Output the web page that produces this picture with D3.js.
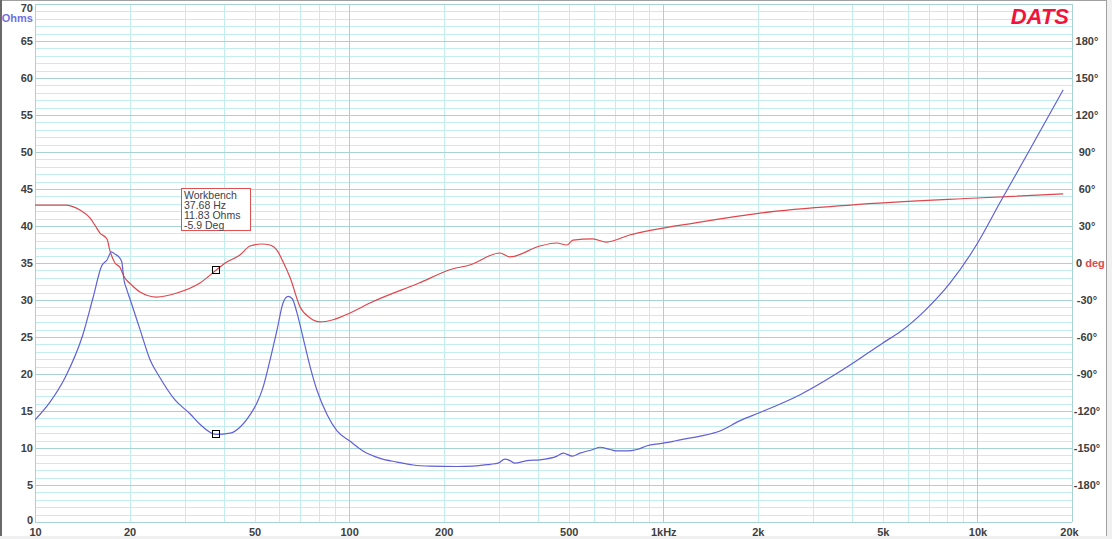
<!DOCTYPE html>
<html><head><meta charset="utf-8">
<script src="https://cdn.jsdelivr.net/npm/d3@7/dist/d3.min.js"></script>
<style>
html,body{margin:0;padding:0;background:#fff;overflow:hidden}
svg{display:block}
text{font-family:Arial,"Liberation Sans",sans-serif}
</style></head>
<body>
<script>
// ---- data ----
const impFreq = [10,11.16,12.46,14.2,15.3,16.3,16.95,17.5,17.97,18.6,18.9,19.2,19.6,20,21.6,23.2,25.0,27.9,31.2,33.5,37.68,41.8,44.9,48.4,50.9,53.2,56.0,58.9,61.6,63.9,65.8,68.3,70.8,75.1,79.0,85.1,91.5,100.7,110.7,125.5,142,160,181,220,248,281,298,313,325,337,368,405,459,480,513,543,598,629,677,713,767,825,888,977,1075,1131,1309,1516,1756,2033,2727,3932,5000,5675,6818,8188,9980,11813,14718,18750];
const impOhms = [13.8,16.2,19.5,25.3,30.3,34.6,35.4,36.5,36.2,35.7,35.1,32.7,31.4,30.3,26.0,22.0,19.5,16.5,14.6,13.2,11.83,12.0,12.8,14.5,16.1,18.2,21.9,25.9,29.6,30.5,30.2,28.2,25.5,21.0,17.8,14.5,12.3,10.9,9.6,8.6,8.1,7.7,7.55,7.5,7.55,7.8,7.95,8.5,8.3,7.95,8.3,8.4,8.9,9.3,8.9,9.3,9.8,10.1,9.8,9.6,9.6,9.8,10.3,10.6,10.9,11.1,11.6,12.3,13.7,14.8,17.2,21.2,24.2,25.7,28.6,32.3,37.6,43.2,50.4,58.4];
const phFreq = [10,12.46,13.9,14.96,15.5,16.1,16.95,17.3,17.97,18.6,19.3,20,21.6,24.4,28.3,33.5,37.68,40.3,44.9,48.4,52.9,56.0,58.9,61.6,64.9,69.8,75.1,80.7,88.9,100.7,116.5,167,213,242,302,325,405,458,493,516,596,659,781,1309,2033,3932,9980,18750];
const phDeg = [47,47,43,36.5,30.8,24.3,19.5,10.5,0,-3.2,-12,-16.2,-23.5,-27.6,-24.3,-16.2,-5.9,0,6.5,13.8,15.4,14.6,10.5,1,-12,-35.7,-44.6,-47.8,-46,-40.5,-32.4,-16.2,-4.9,-1.6,8.1,4.9,13.8,16.2,14.6,18.6,19.5,17,22.7,33.2,40.5,47,52.7,56];
const xTickValues = [10,20,50,100,200,500,1000,2000,5000,10000,20000];
const xTickLabels = ["10","20","50","100","200","500","1kHz","2k","5k","10k","20k"];
const ohmTicks = [0,5,10,15,20,25,30,35,40,45,50,55,60,65,70];
const degTicks = [-180,-150,-120,-90,-60,-30,0,30,60,90,120,150,180];
const legendLines = ["Workbench","37.68 Hz","11.83 Ohms","-5.9 Deg"];
const cursorFreq = 37.68, cursorOhms = 11.83, cursorDeg = -5.9;

// ---- layout ----
const W = 1112, H = 539;
const L = 35, R = 1072, T = 4, B = 522;
const svg = d3.select("body").append("svg").attr("width", W).attr("height", H);

const x = d3.scaleLog().domain([10, 20000]).range([L, R]);
const yO = d3.scaleLinear().domain([0, 70]).range([B, T]);
const yD = d3.scaleLinear().domain([-210, 210]).range([B, T]);

// window frame
svg.append("rect").attr("x",0).attr("y",0).attr("width",W).attr("height",H).attr("fill","#fff");
svg.append("rect").attr("x",1107).attr("y",0).attr("width",5).attr("height",H).attr("fill","#f0f0f0");
svg.append("rect").attr("x",0).attr("y",536).attr("width",W).attr("height",3).attr("fill","#f0f0f0");
svg.append("line").attr("x1",0).attr("x2",1107).attr("y1",0.5).attr("y2",0.5).attr("stroke","#a0a0a0");
svg.append("rect").attr("x",0).attr("y",0).attr("width",2).attr("height",536).attr("fill","#696969");
svg.append("line").attr("x1",1106.5).attr("x2",1106.5).attr("y1",0).attr("y2",536).attr("stroke","#a0a0a0");

// grid
const grid = svg.append("g").attr("shape-rendering","crispEdges");
const minorX = [];
for (let d = 10; d < 20000; d *= 10) for (let m = 2; m <= 9; m++) { const v = d*m; if (v < 20000) minorX.push(v); }
const minorY = d3.range(0, 71, 1).filter(v => v % 5 !== 0);
const minorCol = "#c4eeee", majorCol = "#a9d3d3";
grid.selectAll(".hy").data(minorY).join("line")
  .attr("x1",L).attr("x2",R).attr("y1",d=>Math.round(yO(d))+0.5).attr("y2",d=>Math.round(yO(d))+0.5)
  .attr("stroke",minorCol);
grid.selectAll(".vx").data(minorX).join("line")
  .attr("y1",T).attr("y2",B).attr("x1",d=>Math.round(x(d))+0.5).attr("x2",d=>Math.round(x(d))+0.5)
  .attr("stroke",minorCol);
grid.selectAll(".hY").data(ohmTicks).join("line")
  .attr("x1",L).attr("x2",R).attr("y1",d=>Math.round(yO(d))+0.5).attr("y2",d=>Math.round(yO(d))+0.5)
  .attr("stroke",majorCol);
grid.selectAll(".vX").data([10,100,1000,10000,20000]).join("line")
  .attr("y1",T).attr("y2",B).attr("x1",d=>Math.round(x(d))+0.5).attr("x2",d=>Math.round(x(d))+0.5)
  .attr("stroke",majorCol);

// axes labels
const lab = "#404040";
const axL = d3.axisLeft(yO).tickValues(ohmTicks).tickSize(0).tickPadding(2).tickFormat(d3.format("d"));
const gL = svg.append("g").attr("transform",`translate(${L},0)`).call(axL);
gL.select(".domain").remove();
gL.selectAll("text").attr("fill",lab).style("font-size","11px").style("font-weight","bold")
  .attr("dy", d => d === 70 ? "0.7em" : d === 0 ? "0.15em" : "0.36em");

const axB = d3.axisBottom(x).tickValues(xTickValues).tickSize(0).tickPadding(6)
  .tickFormat((d,i) => xTickLabels[i]);
const gB = svg.append("g").attr("transform",`translate(0,${B})`).call(axB);
gB.select(".domain").remove();
gB.selectAll("text").attr("fill",lab).style("font-size","11px").style("font-weight","bold")
  .attr("x", d => d === 20000 ? -3 : 0);

const axR = d3.axisRight(yD).tickValues(degTicks).tickSize(0).tickPadding(15)
  .tickFormat(d => d === 0 ? "" : d + "°");
const gR = svg.append("g").attr("transform",`translate(${R},0)`).call(axR);
gR.select(".domain").remove();
gR.selectAll("text").attr("fill",lab).style("font-size","11px").style("font-weight","bold")
  .attr("text-anchor","middle");
const zeroLab = svg.append("text").attr("x",1076).attr("y",yD(0)).attr("dy","0.36em")
  .style("font-size","11px").style("font-weight","bold");
zeroLab.append("tspan").attr("fill",lab).text("0 ");
zeroLab.append("tspan").attr("fill","#e04a4a").text("deg");

svg.append("text").attr("x",33).attr("y",22).attr("text-anchor","end")
  .attr("fill","#7070e4").style("font-size","11px").style("font-weight","bold").text("Ohms");

// curves
svg.append("clipPath").attr("id","pc").append("rect")
  .attr("x",L).attr("y",T).attr("width",R-L).attr("height",B-T);
const lineO = d3.line().x(d=>x(d[0])).y(d=>yO(d[1])).curve(d3.curveMonotoneX);
const lineD = d3.line().x(d=>x(d[0])).y(d=>yD(d[1])).curve(d3.curveMonotoneX);
svg.append("path").datum(phFreq.map((f,i)=>[f,phDeg[i]]))
  .attr("d",lineD).attr("fill","none").attr("stroke","#e0464c").attr("stroke-width",1.2)
  .attr("clip-path","url(#pc)");
svg.append("path").datum(impFreq.map((f,i)=>[f,impOhms[i]]))
  .attr("d",lineO).attr("fill","none").attr("stroke","#6060d8").attr("stroke-width",1.2)
  .attr("clip-path","url(#pc)");

// cursor markers
[[cursorFreq, yO(cursorOhms)],[cursorFreq, yD(cursorDeg)]].forEach(p => {
  svg.append("rect").attr("x",Math.round(x(p[0]))-3.5).attr("y",Math.round(p[1])-3.5)
    .attr("width",7).attr("height",7).attr("fill","none").attr("stroke","#000").attr("stroke-width",1);
});

// legend box
svg.append("rect").attr("x",181.5).attr("y",188.5).attr("width",69).attr("height",42)
  .attr("fill","#fff").attr("stroke","#e05050").attr("stroke-width",1);
svg.selectAll(".lg").data(legendLines).join("text")
  .attr("x",184).attr("y",(d,i)=>198.5+i*10).attr("fill","#404048")
  .style("font-size","10.5px").text(d=>d);

// logo
svg.append("text").attr("x",1069).attr("y",24).attr("text-anchor","end")
  .attr("fill","#f0143c").style("font-size","22px").style("font-weight","bold")
  .style("font-style","italic").text("DATS");
</script>
</body></html>
